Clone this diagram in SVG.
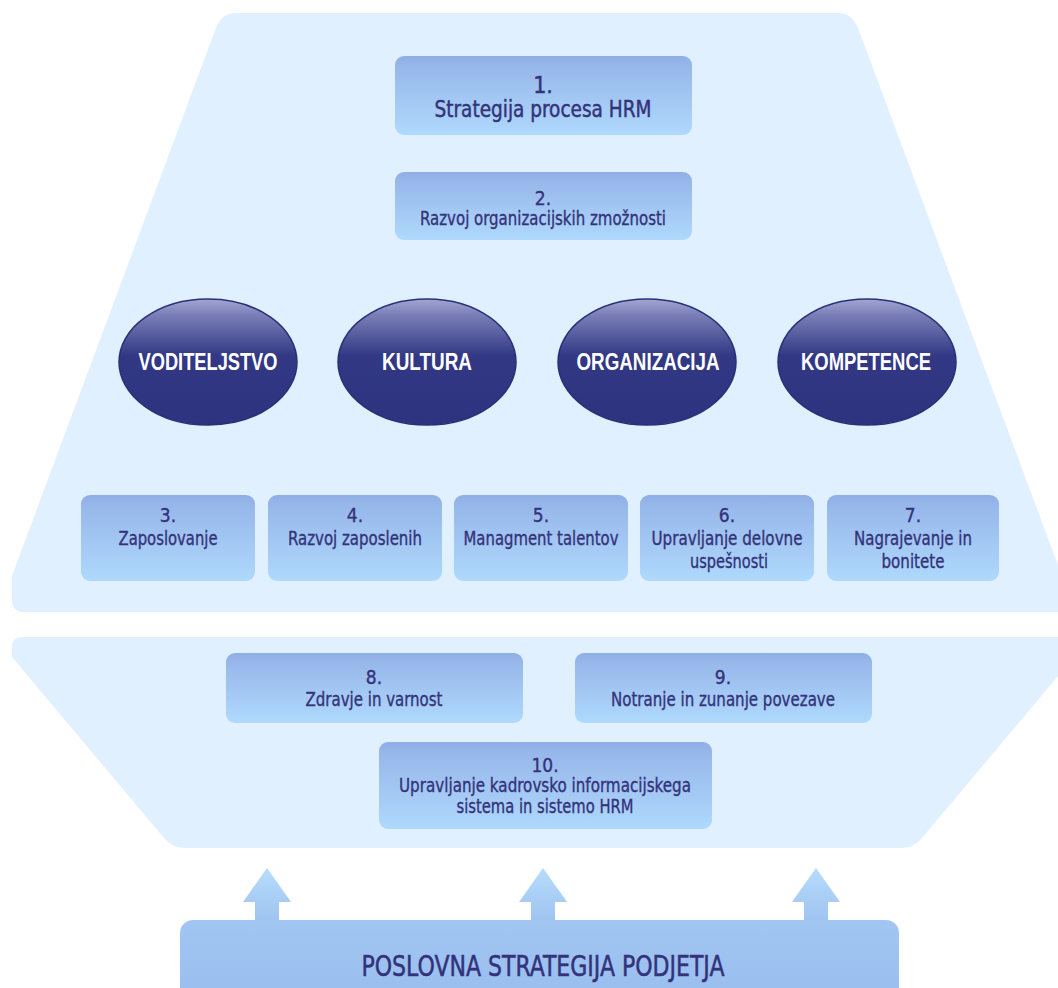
<svg xmlns="http://www.w3.org/2000/svg" width="1058" height="988" viewBox="0 0 1058 988">
<defs>
<linearGradient id="boxg" x1="0" y1="0" x2="0" y2="1">
<stop offset="0" stop-color="#8eaee6"/>
<stop offset="0.12" stop-color="#97b7ea"/>
<stop offset="1" stop-color="#afd9fd"/>
</linearGradient>
<linearGradient id="ellg" x1="0" y1="0" x2="0" y2="1">
<stop offset="0" stop-color="#a3a6d2"/>
<stop offset="0.12" stop-color="#7c80b8"/>
<stop offset="0.45" stop-color="#323884"/>
<stop offset="1" stop-color="#2e337f"/>
</linearGradient>
<linearGradient id="barg" x1="0" y1="0" x2="0" y2="1">
<stop offset="0" stop-color="#a2c6f2"/>
<stop offset="1" stop-color="#98bdee"/>
</linearGradient>
<linearGradient id="arrg" x1="0" y1="0" x2="0" y2="1">
<stop offset="0" stop-color="#b6dcfc"/>
<stop offset="1" stop-color="#9fc3f0"/>
</linearGradient>
<style>
.panel{fill:#e0f0fe}
.bx{fill:url(#boxg)}
.ell{fill:url(#ellg);stroke:#2a2f78;stroke-width:1.5}
.t{font-family:"DejaVu Sans Condensed","DejaVu Sans",sans-serif;font-stretch:condensed;fill:#34337a;stroke:#34337a;stroke-width:0.35;text-anchor:middle;font-size:19px}
.t1{font-size:23px;stroke-width:0.45}
.et{font-family:"Liberation Sans",Arial,sans-serif;font-weight:bold;fill:#ffffff;text-anchor:middle;font-size:24px}
.bt{font-family:"DejaVu Sans Condensed","DejaVu Sans",sans-serif;font-stretch:condensed;fill:#33327a;stroke:#33327a;stroke-width:0.5;text-anchor:middle;font-size:29px}
.arr{fill:url(#arrg)}
</style>
</defs>
<rect width="1058" height="988" fill="#ffffff"/>
<g id="panel-top">
<path class="panel" d="M 24 612 Q 12 612 12 600 L 12 576 L 216 28 Q 222 13 236 13 L 838 13 Q 852 13 858 28 L 1062 576 L 1062 612 Z"/>
</g>
<g id="panel-bottom">
<path class="panel" d="M 22 637 L 1064 637 Q 1074 637 1074 647 L 1074 657 L 922 838 Q 914 848 900 848 L 186 848 Q 172 848 164 838 L 12 657 L 12 647 Q 12 637 22 637 Z"/>
</g>
<g id="node1">
<rect class="bx" x="395" y="56" width="297" height="79" rx="9"/>
<text class="t t1" x="543" y="93">1.</text>
<text class="t t1" x="543" y="117" textLength="217" lengthAdjust="spacingAndGlyphs">Strategija procesa HRM</text>
</g>
<g id="node2">
<rect class="bx" x="395" y="172" width="297" height="68" rx="9"/>
<text class="t" x="543" y="205">2.</text>
<text class="t" x="543" y="225" textLength="246" lengthAdjust="spacingAndGlyphs">Razvoj organizacijskih zmožnosti</text>
</g>
<g id="voditeljstvo">
<ellipse class="ell" cx="208" cy="362" rx="89" ry="63"/>
<text class="et" x="208" y="370" textLength="139" lengthAdjust="spacingAndGlyphs">VODITELJSTVO</text>
</g>
<g id="kultura">
<ellipse class="ell" cx="427" cy="362" rx="89" ry="63"/>
<text class="et" x="427" y="370" textLength="90" lengthAdjust="spacingAndGlyphs">KULTURA</text>
</g>
<g id="organizacija">
<ellipse class="ell" cx="647" cy="362" rx="89" ry="63"/>
<text class="et" x="648" y="370" textLength="143" lengthAdjust="spacingAndGlyphs">ORGANIZACIJA</text>
</g>
<g id="kompetence">
<ellipse class="ell" cx="867" cy="362" rx="89" ry="63"/>
<text class="et" x="866" y="370" textLength="130" lengthAdjust="spacingAndGlyphs">KOMPETENCE</text>
</g>
<g id="node3">
<rect class="bx" x="81" y="495" width="174" height="86" rx="9"/>
<text class="t" x="168" y="522">3.</text>
<text class="t" x="168" y="545" textLength="99" lengthAdjust="spacingAndGlyphs">Zaposlovanje</text>
</g>
<g id="node4">
<rect class="bx" x="268" y="495" width="174" height="86" rx="9"/>
<text class="t" x="355" y="522">4.</text>
<text class="t" x="355" y="545" textLength="134" lengthAdjust="spacingAndGlyphs">Razvoj zaposlenih</text>
</g>
<g id="node5">
<rect class="bx" x="454" y="495" width="174" height="86" rx="9"/>
<text class="t" x="541" y="522">5.</text>
<text class="t" x="541" y="545" textLength="155" lengthAdjust="spacingAndGlyphs">Managment talentov</text>
</g>
<g id="node6">
<rect class="bx" x="640" y="495" width="174" height="86" rx="9"/>
<text class="t" x="727" y="522">6.</text>
<text class="t" x="727" y="545" textLength="151" lengthAdjust="spacingAndGlyphs">Upravljanje delovne</text>
<text class="t" x="729" y="568" textLength="78" lengthAdjust="spacingAndGlyphs">uspešnosti</text>
</g>
<g id="node7">
<rect class="bx" x="827" y="495" width="172" height="86" rx="9"/>
<text class="t" x="913" y="522">7.</text>
<text class="t" x="913" y="545" textLength="118" lengthAdjust="spacingAndGlyphs">Nagrajevanje in</text>
<text class="t" x="913" y="568" textLength="63" lengthAdjust="spacingAndGlyphs">bonitete</text>
</g>
<g id="node8">
<rect class="bx" x="226" y="653" width="297" height="70" rx="9"/>
<text class="t" x="374" y="684">8.</text>
<text class="t" x="374" y="706" textLength="137" lengthAdjust="spacingAndGlyphs">Zdravje in varnost</text>
</g>
<g id="node9">
<rect class="bx" x="575" y="653" width="297" height="70" rx="9"/>
<text class="t" x="723" y="684">9.</text>
<text class="t" x="723" y="706" textLength="224" lengthAdjust="spacingAndGlyphs">Notranje in zunanje povezave</text>
</g>
<g id="node10">
<rect class="bx" x="379" y="742" width="333" height="87" rx="9"/>
<text class="t" x="545" y="772">10.</text>
<text class="t" x="545" y="792" textLength="292" lengthAdjust="spacingAndGlyphs">Upravljanje kadrovsko informacijskega</text>
<text class="t" x="545" y="813" textLength="177" lengthAdjust="spacingAndGlyphs">sistema in sistemo HRM</text>
</g>
<g id="connectors">
<path class="arr" d="M 267 868 L 291 902 L 279 902 L 279 922 L 255 922 L 255 902 L 243 902 Z"/>
<path class="arr" d="M 543 868 L 567 902 L 555 902 L 555 922 L 531 922 L 531 902 L 519 902 Z"/>
<path class="arr" d="M 816 868 L 840 902 L 828 902 L 828 922 L 804 922 L 804 902 L 792 902 Z"/>
</g>
<g id="business-strategy">
<rect x="180" y="920" width="719" height="90" rx="13" fill="url(#barg)"/>
<text class="bt" x="543" y="976" textLength="363" lengthAdjust="spacingAndGlyphs">POSLOVNA STRATEGIJA PODJETJA</text>
</g>
</svg>
